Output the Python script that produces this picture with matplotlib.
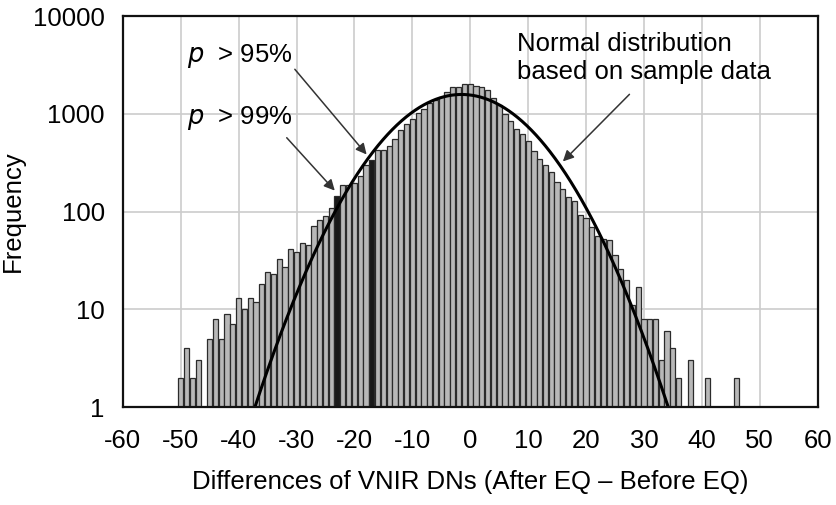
import numpy as np
import matplotlib
matplotlib.use('Agg')
import matplotlib.pyplot as plt

# histogram of DN differences (bin centre -> frequency)
bins = list(range(-50, 47))
counts = [2, 4, 2, 3, 0, 5, 8, 5, 9, 7,
          13, 10, 13, 12, 18, 24, 23, 33, 27, 41,
          39, 48, 45, 71, 83, 90, 109, 144, 185, 185,
          194, 230, 303, 341, 426, 426, 468, 550, 680, 780,
          892, 1025, 1112, 1300, 1385, 1500, 1675, 1900, 1900, 2000,
          2020, 1950, 1900, 1750, 1462, 1222, 988, 844, 693, 616,
          527, 415, 345, 303, 253, 202, 170, 140, 128, 92,
          85, 70, 56, 52, 51, 36, 26, 20, 11, 17,
          8, 8, 8, 3, 6, 4, 2, 0, 3, 0,
          0, 2, 0, 0, 0, 0, 2]
threshold_bins = [-23, -17]  # p > 99%, p > 95%

# normal distribution based on sample data
sample_mean = -1.5
sample_sd = 9.3

plt.rcParams['font.family'] = ['Liberation Sans', 'DejaVu Sans']
plt.rcParams['axes.unicode_minus'] = False
fs = 18.5

fig = plt.figure(figsize=(8.36, 5.05), dpi=100)
ax = fig.add_axes([0.147, 0.194, 0.831, 0.774])
ax.set_yscale('log')

x = np.array(bins)
y = np.array(counts)
keep = y > 0
colors = ['#1a1a1a' if b in threshold_bins else '#b8b8b8' for b in x[keep]]
ax.bar(x[keep], y[keep], width=0.9, color=colors,
       edgecolor='#2b2b2b', linewidth=0.9, zorder=2)

n_total = y.sum()
xs = np.linspace(-60, 60, 1200)
pdf = n_total / (sample_sd * np.sqrt(2 * np.pi)) * \
    np.exp(-(xs - sample_mean) ** 2 / (2 * sample_sd ** 2))
ax.plot(xs, pdf, color='black', lw=2.2, zorder=3)

ax.set_xlim(-60, 60)
ax.set_ylim(1, 10000)
ax.set_xticks(range(-60, 61, 10))
ax.set_yticks([1, 10, 100, 1000, 10000])
ax.set_yticklabels(['1', '10', '100', '1000', '10000'])
ax.yaxis.set_minor_locator(matplotlib.ticker.NullLocator())
ax.tick_params(axis='x', length=0, labelsize=fs, pad=16)
ax.tick_params(axis='y', length=0, labelsize=fs, pad=13)
ax.grid(True, color='#cccccc', lw=1.2, zorder=0)
ax.set_axisbelow(True)
for s in ax.spines.values():
    s.set_linewidth(1.6)
    s.set_color('#111111')
    s.set_zorder(4)

ax.set_xlabel('Differences of VNIR DNs (After EQ \u2013 Before EQ)', fontsize=fs, labelpad=12)
ax.set_ylabel('Frequency', fontsize=fs, labelpad=6)

arrow = dict(arrowstyle='-|>', color='#333333', lw=1.1, mutation_scale=16,
             shrinkA=0, shrinkB=0)
ax.text(-49, 3900, '$p$  > 95%', fontsize=fs, va='center', ha='left')
ax.annotate('', xy=(-17.9, 384), xytext=(-30.3, 2860), arrowprops=arrow)
ax.text(-49, 900, '$p$  > 99%', fontsize=fs, va='center', ha='left')
ax.annotate('', xy=(-23.4, 164), xytext=(-31.7, 570), arrowprops=arrow)
ax.text(8.0, 3750, 'Normal distribution\nbased on sample data',
        fontsize=fs, va='center', ha='left')
ax.annotate('', xy=(16.0, 326), xytext=(27.5, 1585), arrowprops=arrow)

fig.savefig('out.png', dpi=100)
